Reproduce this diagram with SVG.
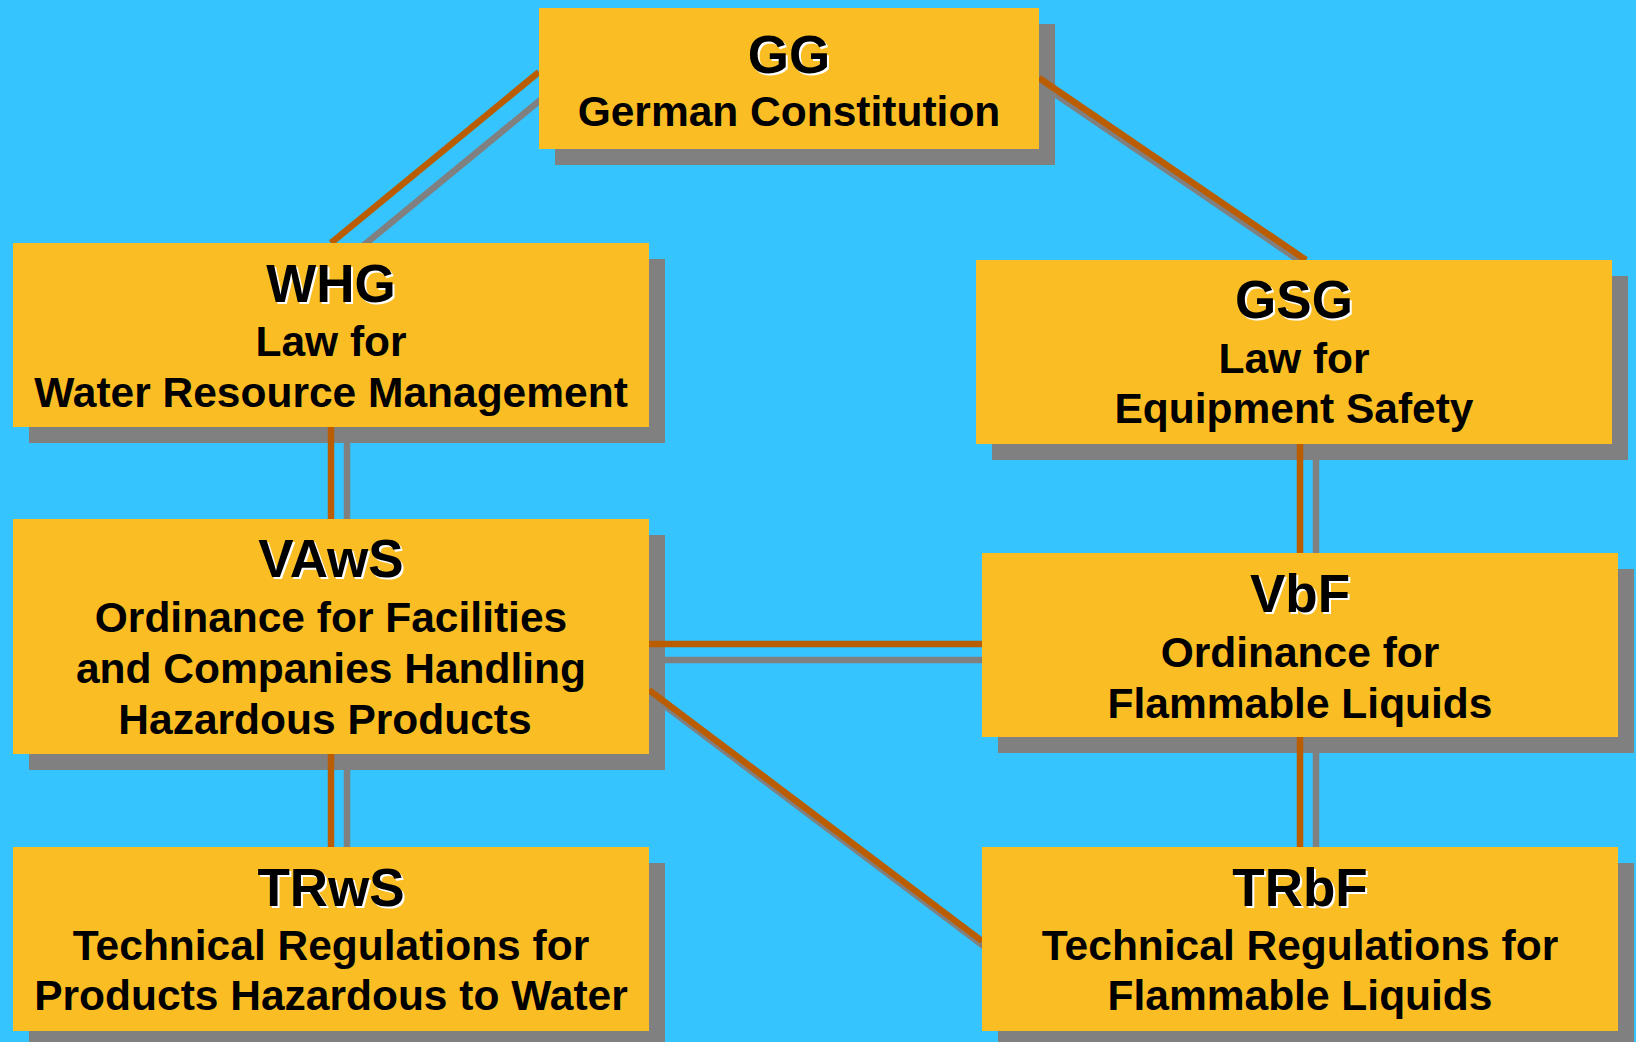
<svg xmlns="http://www.w3.org/2000/svg" width="1636" height="1042" viewBox="0 0 1636 1042">
<style>
.bg{fill:#35C4FE}
.box{fill:#FBBD24}
.sh{fill:#808080}
.ln{stroke:#B95D00;stroke-width:6.5;fill:none}
.lns{stroke:#808080;stroke-width:6.5;fill:none}
text{font-family:"Liberation Sans",Arial,sans-serif;font-weight:bold;text-anchor:middle;fill:#000}
.t{font-size:53px}
.tw{font-size:53px;fill:#fff}
.b{font-size:42.5px}
</style>
<rect class="bg" x="0" y="0" width="1636" height="1042"/>
<g id="connector-shadows">
<line class="lns" x1="347" y1="259" x2="555" y2="88"/>
<line class="lns" x1="1055" y1="94" x2="1322" y2="276"/>
<line class="lns" x1="347" y1="443" x2="347" y2="535"/>
<line class="lns" x1="347" y1="770" x2="347" y2="863"/>
<line class="lns" x1="1316" y1="460" x2="1316" y2="569"/>
<line class="lns" x1="1316" y1="753" x2="1316" y2="863"/>
<line class="lns" x1="665" y1="660" x2="998" y2="660"/>
<line class="lns" x1="665" y1="706" x2="998" y2="957"/>
</g>
<g id="box-shadows">
<rect class="sh" x="555" y="24" width="500" height="141"/>
<rect class="sh" x="29" y="259" width="636" height="184"/>
<rect class="sh" x="29" y="535" width="636" height="235"/>
<rect class="sh" x="29" y="863" width="636" height="184"/>
<rect class="sh" x="992" y="276" width="636" height="184"/>
<rect class="sh" x="998" y="569" width="636" height="184"/>
<rect class="sh" x="998" y="863" width="636" height="184"/>
</g>
<g id="connectors">
<line class="ln" x1="331" y1="243" x2="539" y2="72"/>
<line class="ln" x1="1039" y1="78" x2="1306" y2="260"/>
<line class="ln" x1="331" y1="427" x2="331" y2="519"/>
<line class="ln" x1="331" y1="754" x2="331" y2="847"/>
<line class="ln" x1="1300" y1="444" x2="1300" y2="553"/>
<line class="ln" x1="1300" y1="737" x2="1300" y2="847"/>
<line class="ln" x1="649" y1="644" x2="982" y2="644"/>
<line class="ln" x1="649" y1="690" x2="982" y2="941"/>
</g>
<g id="GG">
<rect class="box" x="539" y="8" width="500" height="141"/>
<text class="tw" x="791" y="75">GG</text><text class="t" x="789" y="73">GG</text>
<text class="b" x="789" y="126">German Constitution</text>
</g>
<g id="WHG">
<rect class="box" x="13" y="243" width="636" height="184"/>
<text class="tw" x="333" y="304">WHG</text><text class="t" x="331" y="302">WHG</text>
<text class="b" x="331" y="356">Law for</text>
<text class="b" x="331" y="407">Water Resource Management</text>
</g>
<g id="VAwS">
<rect class="box" x="13" y="519" width="636" height="235"/>
<text class="tw" x="333" y="579">VAwS</text><text class="t" x="331" y="577">VAwS</text>
<text class="b" x="331" y="632">Ordinance for Facilities</text>
<text class="b" x="331" y="683">and Companies Handling</text>
<text class="b" x="325" y="734">Hazardous Products</text>
</g>
<g id="TRwS">
<rect class="box" x="13" y="847" width="636" height="184"/>
<text class="tw" x="333" y="908">TRwS</text><text class="t" x="331" y="906">TRwS</text>
<text class="b" x="331" y="960">Technical Regulations for</text>
<text class="b" x="331" y="1010">Products Hazardous to Water</text>
</g>
<g id="GSG">
<rect class="box" x="976" y="260" width="636" height="184"/>
<text class="tw" x="1296" y="320">GSG</text><text class="t" x="1294" y="318">GSG</text>
<text class="b" x="1294" y="373">Law for</text>
<text class="b" x="1294" y="423">Equipment Safety</text>
</g>
<g id="VbF">
<rect class="box" x="982" y="553" width="636" height="184"/>
<text class="tw" x="1302" y="614">VbF</text><text class="t" x="1300" y="612">VbF</text>
<text class="b" x="1300" y="667">Ordinance for</text>
<text class="b" x="1300" y="718">Flammable Liquids</text>
</g>
<g id="TRbF">
<rect class="box" x="982" y="847" width="636" height="184"/>
<text class="tw" x="1302" y="908">TRbF</text><text class="t" x="1300" y="906">TRbF</text>
<text class="b" x="1300" y="960">Technical Regulations for</text>
<text class="b" x="1300" y="1010">Flammable Liquids</text>
</g>
</svg>
